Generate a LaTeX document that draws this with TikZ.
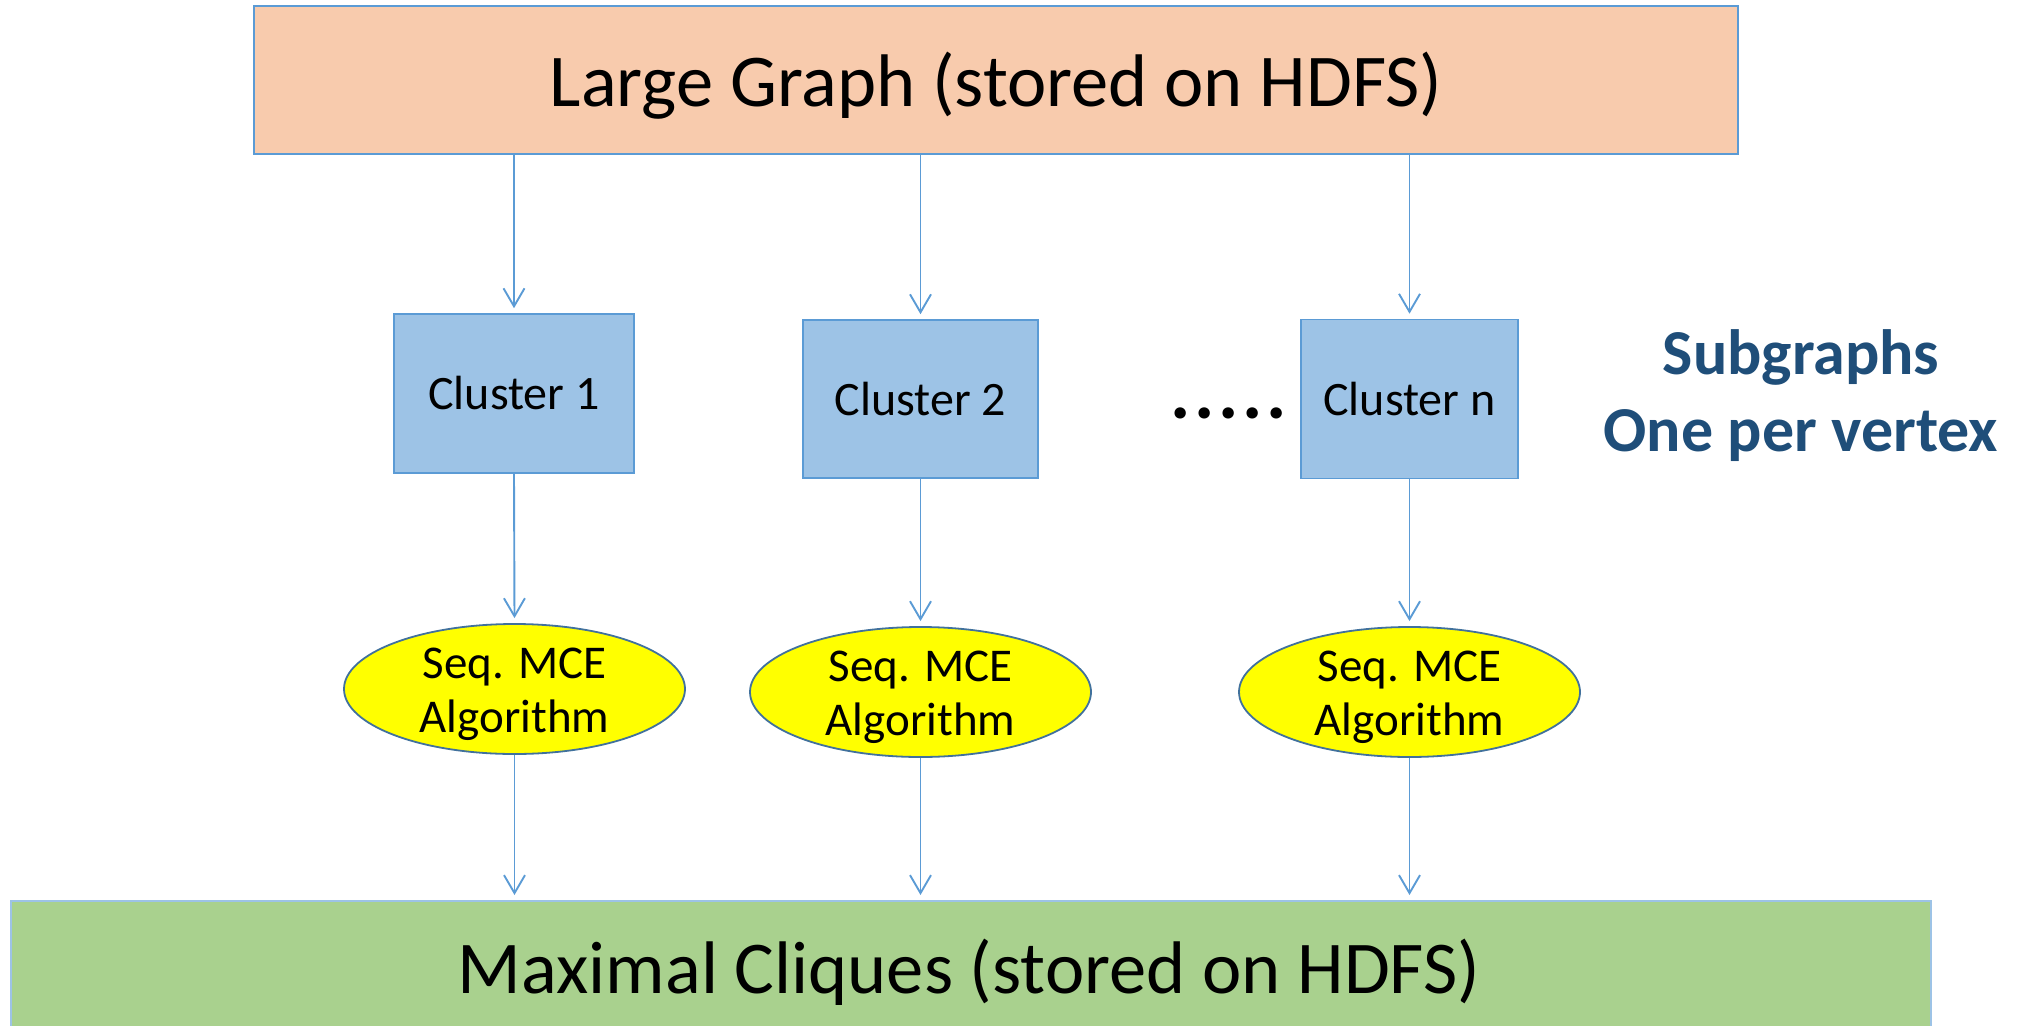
\documentclass[tikz,border=0pt]{standalone}
\usepackage{fontspec}
\setmainfont{Carlito}
\usetikzlibrary{shapes.geometric,arrows.meta}

\definecolor{peach}{HTML}{F8CBAD}
\definecolor{clusterblue}{HTML}{9DC3E6}
\definecolor{edgeblue}{HTML}{5B9BD5}
\definecolor{ringblue}{HTML}{41719C}
\definecolor{leafgreen}{HTML}{A9D18E}
\definecolor{labelblue}{HTML}{1F4E79}
\definecolor{algoyellow}{HTML}{FFFF00}

\tikzset{
  storebox/.style={draw=edgeblue, line width=1.6pt, inner sep=0pt},
  storetext/.style={font=\fontsize{74.5}{90}\selectfont},
  clusterbox/.style={draw=edgeblue, fill=clusterblue, line width=1.6pt, inner sep=0pt, font=\fontsize{48}{56}\selectfont},
  algo/.style={ellipse, draw=ringblue, fill=algoyellow, line width=1.8pt, inner sep=0pt,
    minimum width=341pt, minimum height=130pt},
  algotext/.style={align=center, font=\fontsize{47}{54}\selectfont},
  flow/.style={draw=edgeblue, line width=1.9pt, -{Straight Barb[length=18pt,width=21pt,line width=1.9pt]}, shorten >=5pt},
}

\begin{document}
\begin{tikzpicture}[x=1pt, y=-1pt]
  \useasboundingbox (0,0) rectangle (2020,1025);
  \clip (0,0) rectangle (2020,1025);

  % input and output stores
  \node[storebox, fill=peach, minimum width=1484pt, minimum height=148pt] (graph) at (996,80) {};
  \node[storetext] (graphtext) at (996,86) {Large Graph (stored on HDFS)};
  \node[storebox, fill=leafgreen, draw=clusterblue, minimum width=1920pt, minimum height=140pt,
    anchor=north west] (cliques) at (10,900) {};
  \node[storetext] (cliquestext) at (969,972) {Maximal Cliques (stored on HDFS)};

  % per-vertex clusters
  \node[clusterbox, minimum width=240pt, minimum height=159pt] (c1) at (514,393.5) {Cluster 1};
  \node[clusterbox, minimum width=235pt, minimum height=158pt] (c2) at (920.5,399) {Cluster 2};
  \node[clusterbox, minimum width=217pt, minimum height=159pt] (cn) at (1409.5,399) {Cluster n};

  \node[font=\bfseries\fontsize{76}{80}\selectfont\addfontfeature{LetterSpace=5}] (dots) at (1229,413) {.....};

  \node[font=\bfseries\fontsize{64}{77}\selectfont, text=labelblue, align=center] (sub) at (1801,396)
    {Subgraphs\\One per vertex};

  % sequential enumeration on each cluster
  \node[algo] (a1) at (514.5,689) {};
  \node[algo] (a2) at (920.5,692) {};
  \node[algo] (an) at (1409.5,692) {};
  \node[algotext] (a1text) at (514.5,694) {Seq. MCE\\Algorithm};
  \node[algotext] (a2text) at (920.5,697) {Seq. MCE\\Algorithm};
  \node[algotext] (antext) at (1409.5,697) {Seq. MCE\\Algorithm};

  % connectors
  \draw[flow] (graph.south -| c1) -- (c1.north);
  \draw[flow] (graph.south -| c2) -- (c2.north);
  \draw[flow] (graph.south -| cn) -- (cn.north);
  \draw[flow] (c1.south) -- (a1.north);
  \draw[flow] (c2.south) -- (a2.north);
  \draw[flow] (cn.south) -- (an.north);
  \draw[flow] (a1.south) -- (a1.south |- cliques.north);
  \draw[flow] (a2.south) -- (a2.south |- cliques.north);
  \draw[flow] (an.south) -- (an.south |- cliques.north);
\end{tikzpicture}
\end{document}
